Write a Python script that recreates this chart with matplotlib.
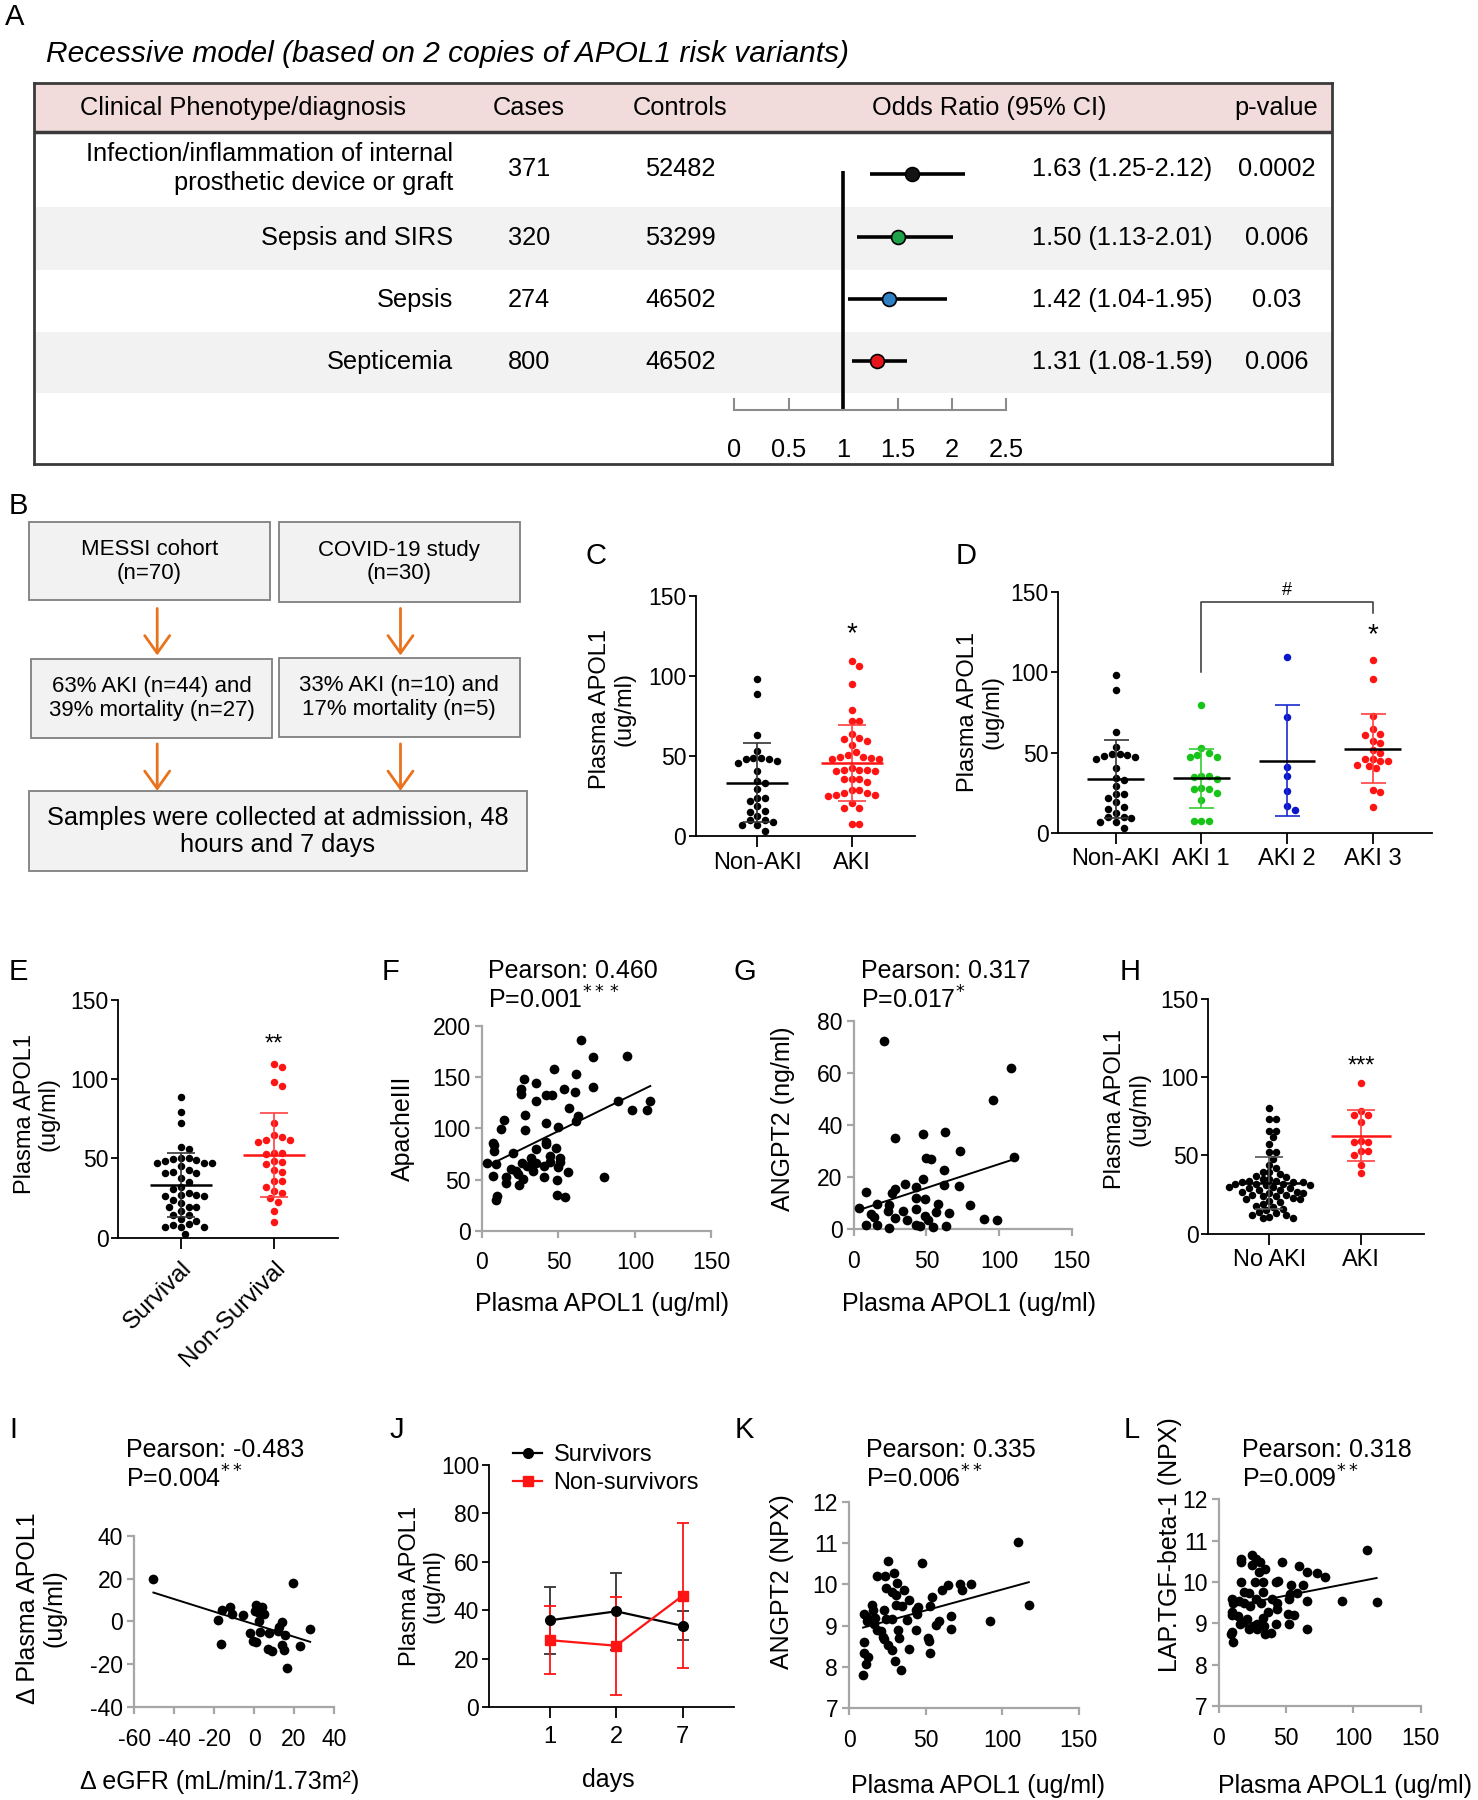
import matplotlib
matplotlib.use("Agg")
import matplotlib.pyplot as plt
import numpy as np
from matplotlib import font_manager
from matplotlib.patches import Rectangle

# ---------------- data ----------------
# A: recessive model, odds ratios
phenotypes = ["Infection/inflammation of internal\nprosthetic device or graft",
              "Sepsis and SIRS", "Sepsis", "Septicemia"]
cases = [371, 320, 274, 800]
controls = [52482, 53299, 46502, 46502]
odds_ratio = [1.63, 1.50, 1.42, 1.31]
ci_low = [1.25, 1.13, 1.04, 1.08]
ci_high = [2.12, 2.01, 1.95, 1.59]
p_values = ["0.0002", "0.006", "0.03", "0.006"]
or_colors = ["#141414", "#1fa34a", "#2e7fc4", "#e8141b"]
or_ticks = [0, 0.5, 1, 1.5, 2, 2.5]

# B: study flow
flow_text = ["MESSI cohort\n(n=70)", "COVID-19 study\n(n=30)",
             "63% AKI (n=44) and\n39% mortality (n=27)",
             "33% AKI (n=10) and\n17% mortality (n=5)",
             "Samples were collected at admission, 48\nhours and 7 days"]

# C / D: plasma APOL1 (ug/ml)
apol1_non_aki = [98, 89, 63, 53.5, 49, 49, 48.5, 48, 47, 46, 40.5, 34.5, 33, 29.5,
                 24, 24, 22, 19, 16, 15, 12.5, 10, 10, 9, 7, 7, 3]
apol1_aki = [109.5, 106.5, 95, 79, 72, 72, 64, 61.5, 61, 59.5, 57, 52.5, 50.5, 49.5,
             49.5, 49, 48, 48, 42.5, 41.5, 41.5, 41.5, 41, 41, 36, 35.5, 35.5, 34,
             29, 29, 27, 27, 25.5, 25.5, 25, 21, 17.5, 17.5, 7.5, 7.5]
apol1_aki1 = [79.5, 53, 49.5, 48.5, 47, 47, 35.5, 35.5, 35, 33.5, 28, 27.5, 27.5, 25,
              20.5, 7.5, 7.5, 7.5]
apol1_aki2 = [109.5, 72, 41, 35.5, 26, 16.5, 14.5]
apol1_aki3 = [107.5, 95.5, 72.5, 64.5, 61.5, 61, 57, 56, 51.5, 50, 46, 46, 45, 44.5,
              42, 41.5, 40.5, 26.5, 25.5, 16]
aki_stage_labels = ["Non-AKI", "AKI 1", "AKI 2", "AKI 3"]

# E: survival
apol1_survival = [89, 79.5, 72.5, 57, 56, 50, 50, 49.5, 49, 48.5, 47, 47, 47, 45, 43,
                  41.5, 41, 41, 38, 35, 32, 30.5, 28.5, 27, 27, 26.5, 26.5, 24, 22,
                  19.5, 19.5, 19.5, 17, 14.5, 14.5, 12, 10.5, 9, 8, 7, 7, 7, 2.5]
apol1_non_survival = [109.5, 107.5, 98, 95.5, 72.5, 64.5, 63.5, 61.5, 61.5, 60.5,
                      53.5, 53.5, 53, 46.5, 48.5, 48, 41.5, 42.5, 35.5, 35.5, 32,
                      29.5, 28, 25, 22.5, 17, 10]

# H: COVID-19 cohort
apol1_covid_no_aki = [80, 73.5, 73.5, 65.5, 65.5, 61.5, 57, 52, 52, 48, 44, 42, 39.5,
                      39.5, 38, 37, 36, 35, 35, 34, 34, 33, 33, 33, 32, 32, 32, 31, 31,
                      30, 30, 29, 29, 28, 28, 27, 27, 26, 26, 25, 25, 24, 24, 23, 22,
                      22, 21, 20, 19, 18, 17, 16, 15, 14, 13, 12, 12, 11, 10, 10]
apol1_covid_aki = [96.5, 78.5, 76, 75.5, 71.5, 59, 58.5, 58.5, 53, 53, 50, 44, 38.5]

# F: APOL1 vs ApacheIII
apache_pts = [(65, 187), (95, 171), (72.5, 170), (47, 158), (61.5, 153), (27.5, 148),
              (35, 144), (72.5, 141), (25.5, 139), (25.5, 134), (53.5, 139), (42, 133),
              (46, 133), (61, 136), (35, 127), (89, 127), (110, 127), (98, 118),
              (108, 118), (57, 120), (62.5, 112), (61.5, 107), (28, 113), (14.5, 108),
              (42, 105), (50, 101), (12.5, 99), (28, 98), (7, 86), (8, 84), (42, 87),
              (42, 85), (48.5, 81), (35, 80), (8, 78), (20, 76), (32, 71), (32, 63),
              (44.5, 73), (44.5, 67), (51, 71), (51, 67), (50, 62), (3, 66), (9.5, 65),
              (26, 66), (29.5, 63), (35, 66), (40.5, 63), (19, 60), (22, 58),
              (23.5, 55), (33.5, 58), (56, 57), (7, 53), (16, 52), (15.5, 47),
              (26.5, 51), (40.5, 52), (80, 52), (49, 50), (24, 45), (49, 35), (54, 33),
              (10, 34), (9.5, 30)]

# G: APOL1 vs ANGPT2 (ng/ml)
angpt2_pts = [(21, 72), (108, 61.7), (96, 49.5), (28.6, 35), (47.6, 36.4), (62.5, 37.4),
              (72.8, 30), (110, 27.9), (50, 27.5), (53.2, 27.1), (61.8, 22.7),
              (47.6, 19.2), (35.3, 17.5), (42.6, 16.3), (61.8, 16.9), (72.5, 16.6),
              (8.3, 14.5), (28.6, 15.4), (26.3, 13.8), (48.9, 11.5), (42.6, 11.9),
              (16, 9.6), (24.3, 9.2), (79.8, 9.2), (3.3, 8.2), (57.9, 9.6), (23.3, 7),
              (33.6, 7), (11.7, 6.1), (42.6, 7.9), (56.5, 6.7), (65.8, 6.4), (13.9, 4.9),
              (28.2, 4.5), (36.6, 3.5), (49.2, 5.1), (50.9, 3.5), (89.8, 4.1),
              (98.4, 3.8), (8.6, 1.9), (16, 1.9), (42.6, 1.9), (45.9, 1.5), (54.2, 0.9),
              (63.5, 1.3), (24.3, 0.6)]

# I: delta eGFR vs delta APOL1
delta_pts = [(-50.4, 20), (19.6, 18.1), (-18, 0.9), (-15.9, 5.3), (-12.2, 6.9),
             (-10.8, 3.3), (-16.6, -10.3), (-5.5, 3), (1.1, 7.7), (3.9, 6.6), (0.4, 4.7),
             (2.3, 4.2), (5.2, 3.6), (2.3, 0.2), (14, -0.2), (28.1, -3.3), (-2.2, -5.3),
             (3.2, -4.8), (7.6, -5.3), (11.9, -4.5), (15.4, -6.4), (-0.5, -9.2),
             (0.9, -9.7), (6.9, -12.8), (9.2, -13.9), (14, -10.8), (15.2, -13.4),
             (22.9, -11.6), (16.3, -21.9), (12.6, -2.8)]

# J: time course (mean, SD)
days = ["1", "2", "7"]
survivor_mean = [35.8, 39.5, 33.5]
survivor_sd = [13.8, 16.0, 6.0]
non_survivor_mean = [27.6, 25.3, 46.0]
non_survivor_sd = [14.0, 20.2, 30.0]

# K / L: Olink NPX
angpt2_npx_pts = [(110.6, 11.02), (117.4, 9.5), (92, 9.1), (25.7, 10.56), (47.6, 10.52),
                  (17.9, 10.2), (23.2, 10.2), (29.4, 10.27), (31, 10.04), (24.1, 9.9),
                  (27.9, 9.8), (30.4, 9.74), (35.7, 9.87), (60.8, 9.87), (64.9, 9.98),
                  (72.7, 10.0), (73.6, 9.87), (79.5, 10.0), (14.7, 9.5), (15.7, 9.38),
                  (22.5, 9.38), (30.4, 9.5), (34.5, 9.47), (39.1, 9.62), (43.8, 9.38),
                  (45, 9.45), (53.9, 9.7), (52.9, 9.47), (10, 9.28), (11.6, 9.2),
                  (16.9, 9.18), (24.1, 9.15), (28.2, 9.15), (37.6, 9.14), (44.5, 9.28),
                  (11.6, 9.1), (16.3, 9.03), (58.6, 9.1), (57, 9.01), (66.4, 9.22),
                  (17.9, 8.9), (21, 8.86), (31.9, 8.9), (43.5, 8.9), (66.7, 8.92),
                  (21.9, 8.72), (22.5, 8.68), (32.6, 8.69), (51.4, 8.69), (52.3, 8.63),
                  (9.4, 8.61), (25.7, 8.54), (28.2, 8.4), (39.1, 8.43), (52.9, 8.34),
                  (9.4, 8.34), (12.2, 8.23), (11, 8.07), (29.8, 8.15), (33.8, 7.92),
                  (9.1, 7.81)]
lap_tgfb_pts = [(110.2, 10.76), (117.3, 9.52), (91.9, 9.54), (16.9, 10.55), (16.9, 10.47),
                (25.1, 10.64), (28, 10.56), (30.5, 10.47), (25.1, 10.42), (29.8, 10.23),
                (34.1, 10.31), (47.4, 10.47), (59.9, 10.38), (65.3, 10.23), (72.8, 10.21),
                (78.9, 10.11), (16.9, 9.99), (26.9, 9.99), (33, 10.0), (42.3, 10.0),
                (43.8, 10.03), (53.8, 9.93), (62.8, 9.93), (18.7, 9.76), (33, 9.76),
                (22.6, 9.74), (10, 9.58), (10.8, 9.48), (15.1, 9.54), (18.7, 9.5),
                (23.3, 9.42), (28, 9.58), (31.6, 9.5), (39.5, 9.58), (43.1, 9.48),
                (53.1, 9.7), (52, 9.58), (65.7, 9.54), (58.1, 9.74), (9.7, 9.2),
                (10, 9.26), (14.4, 9.18), (20.8, 9.09), (33, 9.13), (37, 9.28),
                (43.1, 9.35), (51.3, 9.22), (56.3, 9.2), (16.1, 8.97), (19, 9.03),
                (25.8, 8.93), (28.7, 8.99), (33.4, 8.93), (42.3, 8.99), (52, 8.97),
                (9.7, 8.79), (9, 8.73), (22.6, 8.85), (28.7, 8.87), (34.1, 8.73),
                (38.8, 8.77), (65.7, 8.87), (10.8, 8.54)]

pearson_text = {"F": ("Pearson: 0.460", "P=0.001", "***"),
                "G": ("Pearson: 0.317", "P=0.017", "*"),
                "I": ("Pearson: -0.483", "P=0.004", "**"),
                "K": ("Pearson: 0.335", "P=0.006", "**"),
                "L": ("Pearson: 0.318", "P=0.009", "**")}

# ---------------- setup ----------------
names = {f.name for f in font_manager.fontManager.ttflist}
REG = "Liberation Sans" if "Liberation Sans" in names else "DejaVu Sans"
plt.rcParams["font.family"] = [REG, "DejaVu Sans"]
plt.rcParams["axes.unicode_minus"] = False

W, H = 1288.0, 1568.0          # reference layout units
FW, FH = 1478, 1800            # output pixels
fig = plt.figure(figsize=(FW / 100, FH / 100), dpi=100)

RED = "#ff1414"
GRAY = "#a6a6a6"
TICK = 16.5
TAB = 18.3


def box(x0, ytop, x1, ybot):
    return fig.add_axes([x0 / W, 1 - ybot / H, (x1 - x0) / W, (ybot - ytop) / H])


def ftext(x, y, s, **kw):
    fig.text(x / W, 1 - y / H, s, **kw)


def swarm(vals, ax, d):
    # simple beeswarm: place points from top to bottom as close to centre as possible
    pos = ax.get_position()
    xl, yl = ax.get_xlim(), ax.get_ylim()
    xppu = pos.width * FW / (xl[1] - xl[0])
    yppu = pos.height * FH / (yl[1] - yl[0])
    vals = np.asarray(vals, float)
    offs = np.zeros(len(vals))
    placed = []
    step = d * 0.5
    for i in np.argsort(-vals, kind="stable"):
        yp = vals[i] * yppu
        for k in range(400):
            c = ((k + 1) // 2) * step * (1 if k % 2 else -1)
            if all((c - px) ** 2 + (yp - py) ** 2 >= d * d for px, py in placed):
                break
        placed.append((c, yp))
        offs[i] = c / xppu
    return offs


def prism_axes(ax, xlim, labels, ylabel, ylab_xy):
    ax.set_xlim(xlim)
    ax.set_ylim(0, 150)
    ax.set_yticks([0, 50, 100, 150])
    ax.set_xticks(range(len(labels)), labels)
    for s in ("top", "right"):
        ax.spines[s].set_visible(False)
    for s in ("left", "bottom"):
        ax.spines[s].set_linewidth(1.3)
    ax.tick_params(axis="y", length=5, width=1.3, labelsize=TICK, pad=2)
    ax.tick_params(axis="x", length=8, width=1.3, labelsize=17, pad=3)
    ax.set_ylabel(ylabel, fontsize=17, linespacing=1.1)
    ax.yaxis.set_label_coords(*ylab_xy)
    ax.patch.set_visible(False)


def dot_groups(ax, groups, colors, mean_colors, sd_colors, mhw=0.33, cap=10, d=7.8):
    for i, vals in enumerate(groups):
        vals = np.asarray(vals, float)
        offs = swarm(vals, ax, d)
        ax.plot(i + offs, vals, "o", color=colors[i], ms=5.4, mec="none", zorder=3,
                clip_on=False)
        m, s = vals.mean(), vals.std(ddof=1)
        ax.errorbar(i, m, yerr=s, fmt="none", ecolor=sd_colors[i], elinewidth=1.2,
                    capsize=cap, capthick=1.2, zorder=4)
        ax.plot([i - mhw, i + mhw], [m, m], color=mean_colors[i], lw=1.8, zorder=5,
                solid_capstyle="butt")


def excel_axes(ax, xlim, ylim, xticks, yticks, xlabel, ylabel, xlab_xy, ylab_xy):
    ax.set_xlim(xlim)
    ax.set_ylim(ylim)
    ax.set_xticks(xticks)
    ax.set_yticks(yticks)
    for s in ("top", "right"):
        ax.spines[s].set_visible(False)
    for s in ("left", "bottom"):
        ax.spines[s].set_color(GRAY)
        ax.spines[s].set_linewidth(1.6)
    ax.tick_params(axis="both", color=GRAY, width=1.6, length=5, labelsize=TICK)
    ax.tick_params(axis="x", pad=10)
    ax.tick_params(axis="y", pad=3)
    ax.set_xlabel(xlabel, fontsize=18)
    ax.xaxis.set_label_coords(*xlab_xy)
    ax.set_ylabel(ylabel, fontsize=18, linespacing=1.1)
    ax.yaxis.set_label_coords(*ylab_xy)
    ax.patch.set_visible(False)


def corr_points(ax, pts):
    x, y = np.array(pts, float).T
    ax.plot(x, y, "o", color="black", ms=7, mec="none", clip_on=False, zorder=3)
    slope, icpt = np.polyfit(x, y, 1)
    xs = np.array([x.min(), x.max()])
    ax.plot(xs, icpt + slope * xs, color="black", lw=1.4, zorder=4)


def pearson(key, x, y):
    r, p, stars = pearson_text[key]
    ftext(x, y, r, fontsize=18, va="center")
    ftext(x, y + 25, p + r"$^{" + stars + "}$", fontsize=18, va="center")


# panel letters
for lab, x, y in [("A", 13, 15), ("B", 16, 441), ("C", 519, 484), ("D", 842, 484),
                  ("E", 16, 847), ("F", 340, 847), ("G", 649, 847), ("H", 985, 847),
                  ("I", 12, 1246), ("J", 346, 1246), ("K", 649, 1246), ("L", 986, 1246)]:
    ftext(x, y, lab, fontsize=21, ha="center", va="center")

# ---------------- A ----------------
ftext(40, 47, "Recessive model (based on 2 copies of APOL1 risk variants)",
      fontsize=21.5, style="italic", va="center")

axT = box(30, 72, 1161, 404)
axT.set_xlim(30, 1161)
axT.set_ylim(404, 72)
axT.set_xticks([])
axT.set_yticks([])
for sp in axT.spines.values():
    sp.set_linewidth(2)
    sp.set_color("#3a3a3a")
axT.add_patch(Rectangle((30, 72), 1131, 43, color="#f2dcdb", lw=0))
for y0, y1 in [(180, 235), (289, 342)]:
    axT.add_patch(Rectangle((30, y0), 1131, y1 - y0, color="#f2f2f2", lw=0))
axT.axhline(115, color="#3a3a3a", lw=2.5)

head = ["Clinical Phenotype/diagnosis", "Cases", "Controls", "Odds Ratio (95% CI)", "p-value"]
for hx, t in zip([212, 461, 593, 862, 1112], head):
    axT.text(hx, 94, t, fontsize=TAB, ha="center", va="center")
row_y = [147, 207, 261, 315]
for i, ry in enumerate(row_y):
    axT.text(395, ry, phenotypes[i], fontsize=TAB, ha="right", va="center",
             multialignment="right", linespacing=1.25)
    axT.text(461, ry, str(cases[i]), fontsize=TAB, ha="center", va="center")
    axT.text(593, ry, str(controls[i]), fontsize=TAB, ha="center", va="center")
    axT.text(978, ry, f"{odds_ratio[i]:.2f} ({ci_low[i]:.2f}-{ci_high[i]:.2f})",
             fontsize=TAB, ha="center", va="center")
    axT.text(1113, ry, p_values[i], fontsize=TAB, ha="center", va="center")

axF = box(640, 115, 877, 357)
axF.patch.set_visible(False)
axF.set_xlim(0, 2.5)
axF.set_ylim(3.78, -0.68)
for s in ("top", "left", "right"):
    axF.spines[s].set_visible(False)
axF.spines["bottom"].set_color("#8c8c8c")
axF.spines["bottom"].set_linewidth(1.5)
axF.set_xticks(or_ticks, [f"{t:g}" for t in or_ticks])
axF.set_yticks([])
axF.tick_params(axis="x", direction="in", length=9, width=1.5, color="#8c8c8c",
                pad=20, labelsize=TAB)
rows = np.arange(len(odds_ratio))
axF.vlines(1, -0.05, 3.78, color="black", lw=2.6)
axF.hlines(rows, ci_low, ci_high, color="black", lw=2.6)
for r in rows:
    axF.plot(odds_ratio[r], r, "o", ms=10, mfc=or_colors[r], mec="black", mew=1.2,
             zorder=3)

# ---------------- B ----------------
axB = box(0, 440, 470, 770)
axB.set_xlim(0, 470)
axB.set_ylim(770, 440)
axB.axis("off")
flow_boxes = [(25, 455, 235, 523), (243, 455, 453, 524), (27, 574, 237, 643),
              (243, 573, 453, 642), (25, 689, 459, 759)]
for k, ((x0, y0, x1, y1), t) in enumerate(zip(flow_boxes, flow_text)):
    axB.add_patch(Rectangle((x0, y0), x1 - x0, y1 - y0, facecolor="#f2f2f2",
                            edgecolor="#7f7f7f", lw=1.3))
    axB.text((x0 + x1) / 2, (y0 + y1) / 2, t, fontsize=18.3 if k == 4 else 16,
             ha="center", va="center", linespacing=1.15)
for x, y0, y1 in [(137, 530, 571), (349, 530, 571), (137, 648, 689), (349, 648, 689)]:
    axB.annotate("", xy=(x, y1), xytext=(x, y0),
                 arrowprops=dict(arrowstyle="->,head_length=0.7,head_width=0.5",
                                 color="#e8731e", lw=2, shrinkA=0, shrinkB=0,
                                 mutation_scale=18))

# ---------------- C ----------------
axC = box(606.5, 519.4, 797.4, 728.5)
prism_axes(axC, (-0.651, 1.672), ["Non-AKI", "AKI"], "Plasma APOL1\n(ug/ml)",
           (-0.278, 0.53))
dot_groups(axC, [apol1_non_aki, apol1_aki], ["black", RED], ["black", RED],
           ["#333333", "#ff4040"])
axC.text(1, 126, "*", fontsize=20, ha="center", va="center")

# ---------------- D ----------------
axD = box(922.3, 515.6, 1247.7, 725.6)
prism_axes(axD, (-0.670, 3.692), aki_stage_labels, "Plasma APOL1\n(ug/ml)",
           (-0.148, 0.5))
dot_groups(axD, [apol1_non_aki, apol1_aki1, apol1_aki2, apol1_aki3],
           ["black", "#18c418", "#0a14c8", RED], ["black"] * 4,
           ["#333333", "#33cc33", "#1a2ad0", "#ff4040"], cap=9)
axD.plot([1, 1, 3, 3], [100, 143.5, 143.5, 137], color="#333333", lw=1.1, clip_on=False)
axD.text(2, 151, "#", fontsize=13, ha="center", va="center")
axD.text(3, 123, "*", fontsize=20, ha="center", va="center")

# ---------------- E ----------------
axE = box(103.1, 870.9, 294.8, 1078.3)
prism_axes(axE, (-0.669, 1.689), ["Survival", "Non-Survival"], "Plasma APOL1\n(ug/ml)",
           (-0.268, 0.52))
axE.tick_params(axis="x", labelsize=17.5, pad=6)
for t in axE.get_xticklabels():
    t.set_rotation(45)
    t.set_ha("right")
    t.set_va("top")
    t.set_rotation_mode("anchor")
dot_groups(axE, [apol1_survival, apol1_non_survival], ["black", RED], ["black", RED],
           ["#333333", "#ff4040"])
axE.text(1, 122, "**", fontsize=17, ha="center", va="center")

# ---------------- F ----------------
axFp = box(420, 894, 620, 1072)
excel_axes(axFp, (0, 150), (0, 200), [0, 50, 100, 150], [0, 50, 100, 150, 200],
           "Plasma APOL1 (ug/ml)", "ApacheIII", (0.525, -0.30), (-0.29, 0.5))
corr_points(axFp, apache_pts)
pearson("F", 425, 846)

# ---------------- G ----------------
axG = box(744, 889, 934, 1071)
excel_axes(axG, (0, 150), (0, 80), [0, 50, 100, 150], [0, 20, 40, 60, 80],
           "Plasma APOL1 (ug/ml)", "ANGPT2 (ng/ml)", (0.53, -0.30), (-0.27, 0.53))
corr_points(axG, angpt2_pts)
pearson("G", 750, 846)

# ---------------- H ----------------
axH = box(1053, 870, 1241, 1074.8)
prism_axes(axH, (-0.666, 1.687), ["No AKI", "AKI"], "Plasma APOL1\n(ug/ml)",
           (-0.27, 0.533))
dot_groups(axH, [apol1_covid_no_aki, apol1_covid_aki], ["black", RED], ["black", RED],
           ["#555555", "#ff4040"], d=6.8)
axH.text(1, 107, "***", fontsize=17, ha="center", va="center")

# ---------------- I ----------------
axI = box(117, 1338, 291, 1487)
excel_axes(axI, (-60, 40), (-40, 40), [-60, -40, -20, 0, 20, 40], [-40, -20, 0, 20, 40],
           "\u0394 eGFR (mL/min/1.73m\u00b2)", "\u0394 Plasma APOL1\n(ug/ml)",
           (0.43, -0.37), (-0.34, 0.58))
corr_points(axI, delta_pts)
pearson("I", 110, 1263)

# ---------------- J ----------------
axJ = box(426, 1276, 640, 1487)
xj = np.arange(len(days))
axJ.errorbar(xj, survivor_mean, yerr=survivor_sd, fmt="none", ecolor="#333333",
             elinewidth=1.3, capsize=4, capthick=1.3, zorder=3)
axJ.errorbar(xj, non_survivor_mean, yerr=non_survivor_sd, fmt="none", ecolor=RED,
             elinewidth=1.3, capsize=4, capthick=1.3, zorder=3)
axJ.plot(xj, survivor_mean, "-o", color="black", ms=7, lw=1.6, label="Survivors", zorder=4)
axJ.plot(xj, non_survivor_mean, "-s", color=RED, ms=7, lw=1.6, label="Non-survivors",
         zorder=5)
axJ.set_xlim(-0.914, 2.776)
axJ.set_ylim(0, 100)
axJ.set_yticks([0, 20, 40, 60, 80, 100])
axJ.set_xticks(xj, days)
for s in ("top", "right"):
    axJ.spines[s].set_visible(False)
for s in ("left", "bottom"):
    axJ.spines[s].set_linewidth(1.3)
axJ.tick_params(axis="y", length=5, width=1.3, labelsize=TICK, pad=2)
axJ.tick_params(axis="x", length=8, width=1.3, labelsize=17, pad=6)
axJ.set_xlabel("days", fontsize=18)
axJ.xaxis.set_label_coords(0.486, -0.25)
axJ.set_ylabel("Plasma APOL1\n(ug/ml)", fontsize=17, linespacing=1.1)
axJ.yaxis.set_label_coords(-0.18, 0.5)
axJ.legend(loc="upper left", bbox_to_anchor=(0.1, 1.085), frameon=False, fontsize=17,
           handlelength=1.2, handletextpad=0.5, labelspacing=0.25, borderaxespad=0,
           borderpad=0)
axJ.patch.set_visible(False)

# ---------------- K ----------------
axK = box(740, 1308, 940, 1488)
excel_axes(axK, (0, 150), (7, 12), [0, 50, 100, 150], [7, 8, 9, 10, 11, 12],
           "Plasma APOL1 (ug/ml)", "ANGPT2 (NPX)", (0.56, -0.32), (-0.24, 0.61))
corr_points(axK, angpt2_npx_pts)
pearson("K", 755, 1263)

# ---------------- L ----------------
axL = box(1062, 1306, 1238, 1486)
excel_axes(axL, (0, 150), (7, 12), [0, 50, 100, 150], [7, 8, 9, 10, 11, 12],
           "Plasma APOL1 (ug/ml)", "LAP.TGF-beta-1 (NPX)", (0.625, -0.33), (-0.18, 0.78))
corr_points(axL, lap_tgfb_pts)
pearson("L", 1082, 1263)

fig.savefig("out.png", dpi=100)
